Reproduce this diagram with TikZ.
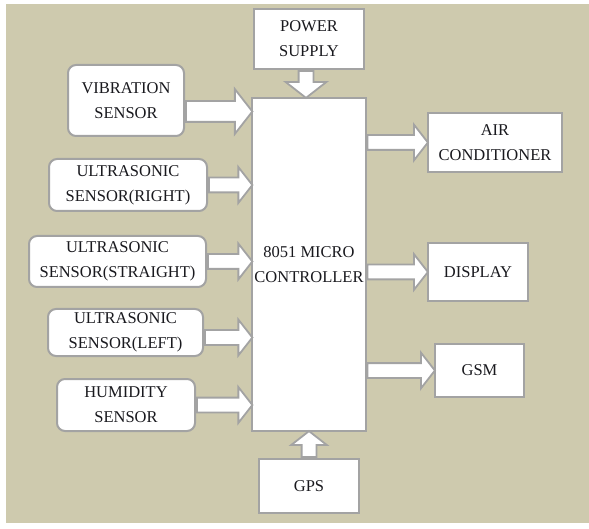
\documentclass[tikz,border=0pt]{standalone}
\usepackage{fontspec}
\setmainfont{Liberation Serif}
\usepackage{tikz}
\usetikzlibrary{shapes.arrows, positioning, calc}
\definecolor{khaki}{RGB}{206, 202, 174}
\definecolor{boxgray}{RGB}{163, 163, 163}
\definecolor{textdark}{RGB}{25, 25, 30}

% block arrow between two points: [style]{name}{from}{to}
\newcommand{\blockarrow}[4][fatarrow]{%
  \path let \p1=(#3), \p2=(#4), \n1={atan2(\y2-\y1,\x2-\x1)}, \n2={veclen(\x2-\x1,\y2-\y1)} in
    node[#1, minimum height=\n2, rotate=\n1, anchor=tail] (#2) at (\p1) {};}

\begin{document}
\begin{tikzpicture}[
    x=1pt, y=-1pt,
    node distance=27pt,
    every node/.style={font=\fontsize{16.5}{25}\selectfont, text=textdark},
    sensor/.style={rectangle, draw=boxgray, line width=2pt, fill=white, rounded corners=8pt, align=center, inner sep=2pt},
    block/.style={rectangle, draw=boxgray, line width=2pt, fill=white, align=center, inner sep=2pt},
    fatarrow/.style={single arrow, draw=boxgray, fill=white, line width=1.8pt, inner sep=0pt, text height=13pt, text depth=0pt, minimum width=0pt, single arrow head extend=10.5pt, single arrow tip angle=104},
    bigarrow/.style={fatarrow, text height=19pt, single arrow head extend=12pt}
]

% background
\useasboundingbox (0,0) rectangle (589,529);
\fill[white] (0,0) rectangle (589,529);
\fill[khaki] (6,4) rectangle (589,523);

% controller
\node[block, minimum width=112pt, minimum height=333pt] (mcu) at (309,264.5) {8051 MICRO\\CONTROLLER};
\node[block, minimum width=110pt, minimum height=60pt, above=of mcu] (power) {POWER\\SUPPLY};
\node[block, minimum width=100pt, minimum height=54pt, below=26pt of mcu] (gps) {GPS};

% sensors
\node[sensor, minimum width=116pt, minimum height=71pt] (vib) at (126,100.5) {VIBRATION\\SENSOR};
\node[sensor, minimum width=158pt, minimum height=52pt] (usright) at (128,185) {ULTRASONIC\\SENSOR(RIGHT)};
\node[sensor, minimum width=177pt, minimum height=51pt] (usstraight) at (117.5,261.5) {ULTRASONIC\\SENSOR(STRAIGHT)};
\node[sensor, minimum width=155pt, minimum height=47pt] (usleft) at (125.5,332.5) {ULTRASONIC\\SENSOR(LEFT)};
\node[sensor, minimum width=138pt, minimum height=52pt] (humid) at (126,405) {HUMIDITY\\SENSOR};

% outputs
\node[block, minimum width=134pt, minimum height=59pt] (aircon) at (495,142.5) {AIR\\CONDITIONER};
\node[block, minimum width=100pt, minimum height=58pt] (disp) at (478,272) {DISPLAY};
\node[block, minimum width=89pt, minimum height=53pt] (gsm) at (479.5,370.5) {GSM};

% arrows in
\blockarrow[bigarrow]{a1}{[yshift=-11pt]vib.east}{[yshift=-11pt]vib.east -| mcu.west}
\blockarrow{a2}{usright.east}{usright.east -| mcu.west}
\blockarrow{a3}{usstraight.east}{usstraight.east -| mcu.west}
\blockarrow{a4}{[yshift=-5pt]usleft.east}{[yshift=-5pt]usleft.east -| mcu.west}
\blockarrow{a5}{humid.east}{humid.east -| mcu.west}
\blockarrow[fatarrow, single arrow head extend=13pt]{a6}{[xshift=-3pt]power.south}{[xshift=-3pt]power.south |- mcu.north}
\blockarrow{a7}{gps.north}{gps.north |- mcu.south}

% arrows out
\blockarrow{a8}{mcu.east |- aircon.west}{aircon.west}
\blockarrow{a9}{mcu.east |- disp.west}{disp.west}
\blockarrow{a10}{mcu.east |- gsm.west}{gsm.west}

\end{tikzpicture}
\end{document}
